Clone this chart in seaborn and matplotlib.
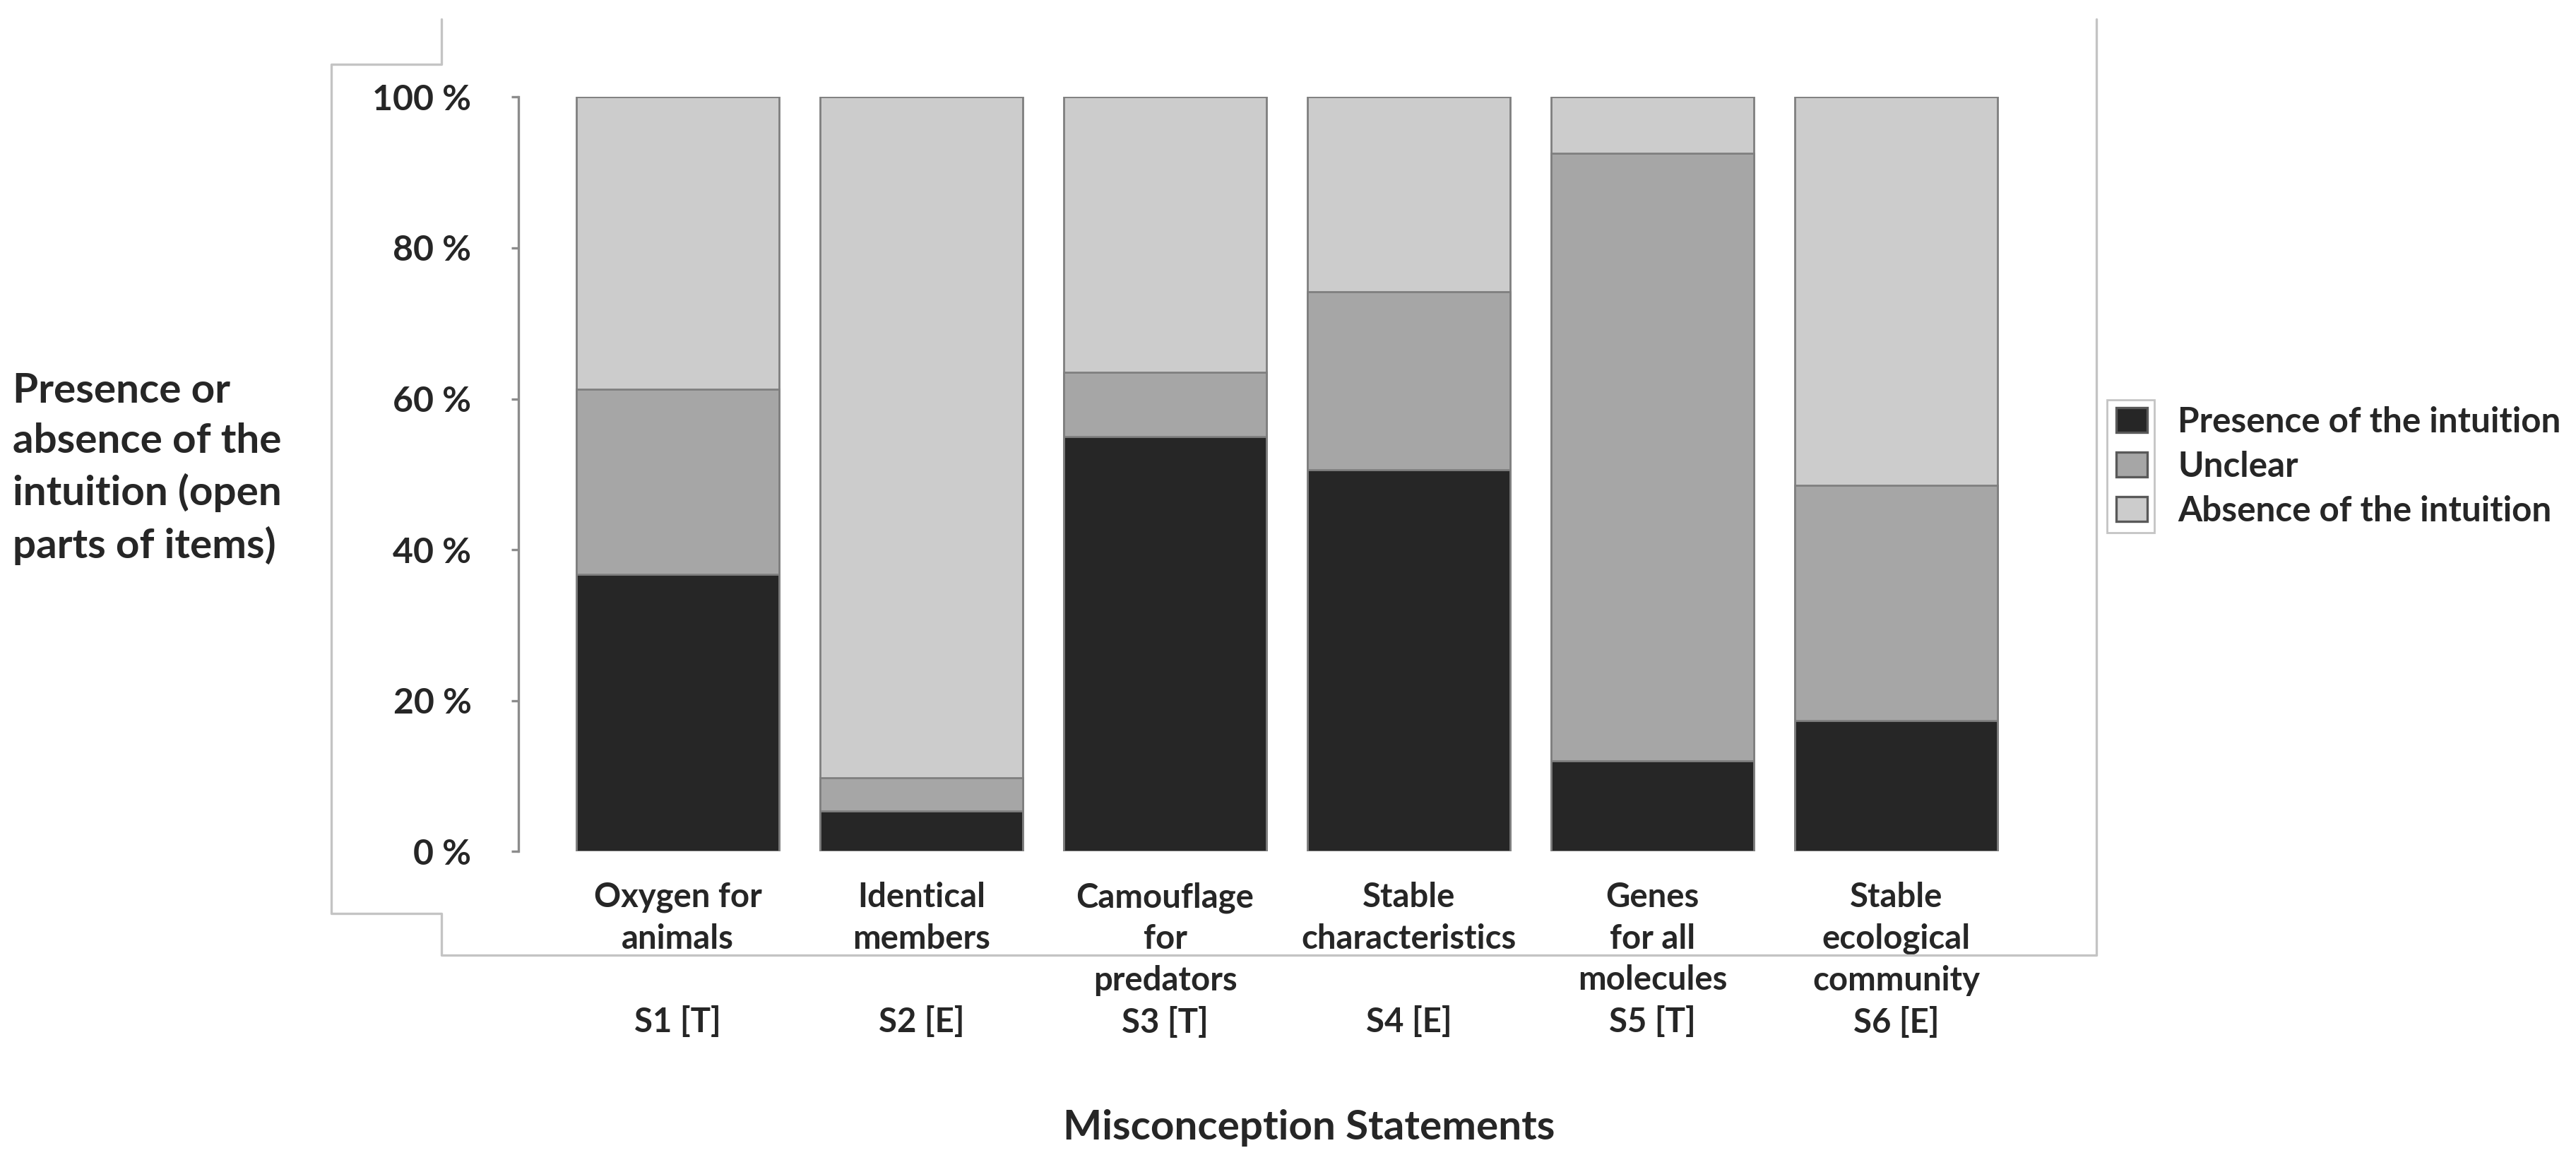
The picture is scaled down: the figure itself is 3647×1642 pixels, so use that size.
import matplotlib
matplotlib.use('Agg')
import matplotlib.pyplot as plt
from matplotlib.lines import Line2D
import pandas as pd
import numpy as np
import seaborn as sns

# values, percent of answers
statements = ['S1', 'S2', 'S3', 'S4', 'S5', 'S6']
tick_labels = ['Oxygen for\nanimals\n\nS1 [T]',
               'Identical\nmembers\n\nS2 [E]',
               'Camouflage\nfor\npredators\nS3 [T]',
               'Stable\ncharacteristics\n\nS4 [E]',
               'Genes\nfor all\nmolecules\nS5 [T]',
               'Stable\necological\ncommunity\nS6 [E]']
presence = [36.7, 5.4, 55.0, 50.6, 12.0, 17.4]
unclear = [24.6, 4.4, 8.5, 23.6, 80.5, 31.1]
absence = [38.7, 90.2, 36.5, 25.8, 7.5, 51.5]
series_names = ['Presence of the intuition', 'Unclear', 'Absence of the intuition']
colors = ['#262626', '#a6a6a6', '#cccccc']
y_ticks = [0, 20, 40, 60, 80, 100]

sns.set_style('white')
plt.rcParams['font.family'] = ['Lato', 'DejaVu Sans']
plt.rcParams['font.weight'] = 'bold'

df = pd.DataFrame({'statement': statements, 'presence': presence,
                   'unclear': unclear, 'absence': absence})
df['cum1'] = df['presence']
df['cum2'] = df['presence'] + df['unclear']
df['cum3'] = df['cum2'] + df['absence']

fig = plt.figure(figsize=(18.24, 8.21), dpi=200)
ax = fig.add_axes([0.2013, 0.2659, 0.5984, 0.6505])

# stacked bars: draw the tallest layer first
for col, c in zip(['cum3', 'cum2', 'cum1'], colors[::-1]):
    sns.barplot(data=df, x='statement', y=col, color=c, width=0.83,
                edgecolor='#7f7f7f', linewidth=1.0, saturation=1, ax=ax)

ax.set_xlim(-0.653, 5.675)
ax.set_ylim(0, 100)
ax.set_yticks(y_ticks)
ax.set_yticklabels(['%d %%' % v for v in y_ticks])
ax.set_xticks(range(len(statements)))
ax.set_xticklabels(tick_labels, linespacing=1.4, va='top')
ax.tick_params(axis='y', which='both', left=True, length=3.6, width=1.2,
               color='#8c8c8c', pad=20.5, labelsize=18)
ax.tick_params(axis='x', bottom=False, pad=12, labelsize=17)
for label in ax.get_xticklabels() + ax.get_yticklabels():
    label.set_fontweight('bold')

for s in ['top', 'right', 'bottom']:
    ax.spines[s].set_visible(False)
ax.spines['left'].set_color('#8c8c8c')
ax.spines['left'].set_linewidth(1.2)
ax.set_xlabel('')
ax.set_ylabel('')

fig.text(0.005, 0.596, 'Presence or\nabsence of the\nintuition (open\nparts of items)',
         ha='left', va='center', fontsize=21, fontweight='bold', linespacing=1.42)
fig.text(0.508, 0.028, 'Misconception Statements', ha='center', va='center',
         fontsize=21, fontweight='bold')

# odd excel-like frame around the plot area
fx = [0.1714, 0.1714, 0.1286, 0.1286, 0.1714, 0.1714, 0.8135, 0.8135]
fy = [0.9837, 0.9447, 0.9447, 0.2126, 0.2126, 0.1766, 0.1766, 0.9837]
fig.add_artist(Line2D(fx, fy, transform=fig.transFigure, color='#c4c4c4', lw=1.2))

handles = [plt.Rectangle((0, 0), 1, 1, facecolor=c, edgecolor='#595959', lw=1.2)
           for c in colors]
leg = fig.legend(handles, series_names, loc='center left',
                 bbox_to_anchor=(0.8214, 0.5978), frameon=False, fontsize=17.8,
                 handlelength=0.88, handleheight=0.72, handletextpad=0.88,
                 labelspacing=0.36, borderpad=0, borderaxespad=0)
for t in leg.get_texts():
    t.set_fontweight('bold')
# small box drawn only around the legend keys, as in the source
fig.add_artist(plt.Rectangle((0.8176, 0.5408), 0.0185, 0.1148,
                             transform=fig.transFigure, fill=False,
                             edgecolor='#c4c4c4', lw=1.0))

fig.savefig('out.png', dpi=200)
